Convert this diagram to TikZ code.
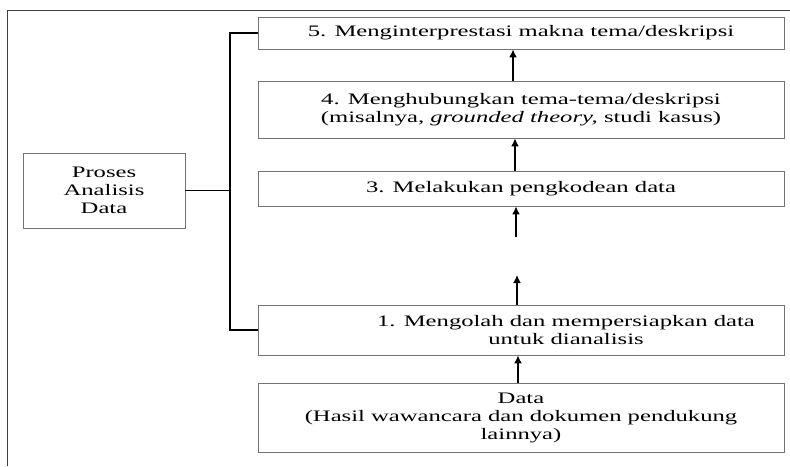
\documentclass[tikz,border=0pt]{standalone}
\usepackage{fontspec}
\setmainfont{Liberation Serif}[FakeStretch=1.54]
\usetikzlibrary{arrows.meta}
\tikzstyle{stepbox} = [
    rectangle,
    minimum width=526pt,
    draw=black!55,
    line width=0.8pt,
    inner sep=0pt,
    align=center,
    font=\fontsize{16pt}{18pt}\selectfont
]
\tikzstyle{mainbox} = [
    rectangle,
    minimum width=162pt,
    minimum height=75pt,
    draw=black!55,
    line width=0.8pt,
    align=center,
    font=\fontsize{16pt}{18pt}\selectfont
]
\tikzstyle{arrow} = [line width=1.6pt,->,>={Latex[length=8pt,width=8pt]}]
\tikzstyle{bracket} = [line width=1.6pt]

\begin{document}
\begin{tikzpicture}[x=1pt,y=-1pt]
\useasboundingbox (0,0) rectangle (790,466);

% frame
\draw [black!75, line width=1pt] (790,10) -- (7,10) -- (7,466);

\node (box5) [stepbox, minimum height=32pt] at (521,33)
{5. Menginterprestasi makna tema/deskripsi};

\node (box4) [stepbox, minimum height=57pt] at (521,109.5)
{4. Menghubungkan tema-tema/deskripsi\\
(misalnya, \textit{grounded theory,} studi kasus)};

\node (box3) [stepbox, minimum height=35pt] at (521,188.5)
{3. Melakukan pengkodean data};

\node (box1) [stepbox, minimum height=50pt] at (521,330) {};
\node (box1text) [align=center, inner sep=0pt, font=\fontsize{16pt}{18pt}\selectfont]
at (566,330)
{1. Mengolah dan mempersiapkan data\\
untuk dianalisis};

\node (data) [stepbox, minimum height=69pt] at (521,417.5)
{Data\\
(Hasil wawancara dan dokumen pendukung\\
lainnya)};

\node (proses) [mainbox] at (104,190.5)
{Proses\\ Analisis\\ Data};

\coordinate (spine) at (230,0);
\coordinate (in3) at (516,237);
\coordinate (out1) at (517,275);

\draw [bracket] (box5.west) -- (box5.west -| spine) |- (box1.west);
\draw [bracket] (proses.east) -- (proses.east -| spine);

\draw [arrow] ([xshift=-3pt]data.north) -- ([xshift=-3pt]box1.south);
\draw [arrow] ([xshift=-4pt]box1.north) -- (out1);
\draw [arrow] (in3) -- ([xshift=-5pt]box3.south);
\draw [arrow] ([xshift=-6pt]box3.north) -- ([xshift=-6pt]box4.south);
\draw [arrow] ([xshift=-8pt]box4.north) -- ([xshift=-8pt]box5.south);

\end{tikzpicture}
\end{document}
